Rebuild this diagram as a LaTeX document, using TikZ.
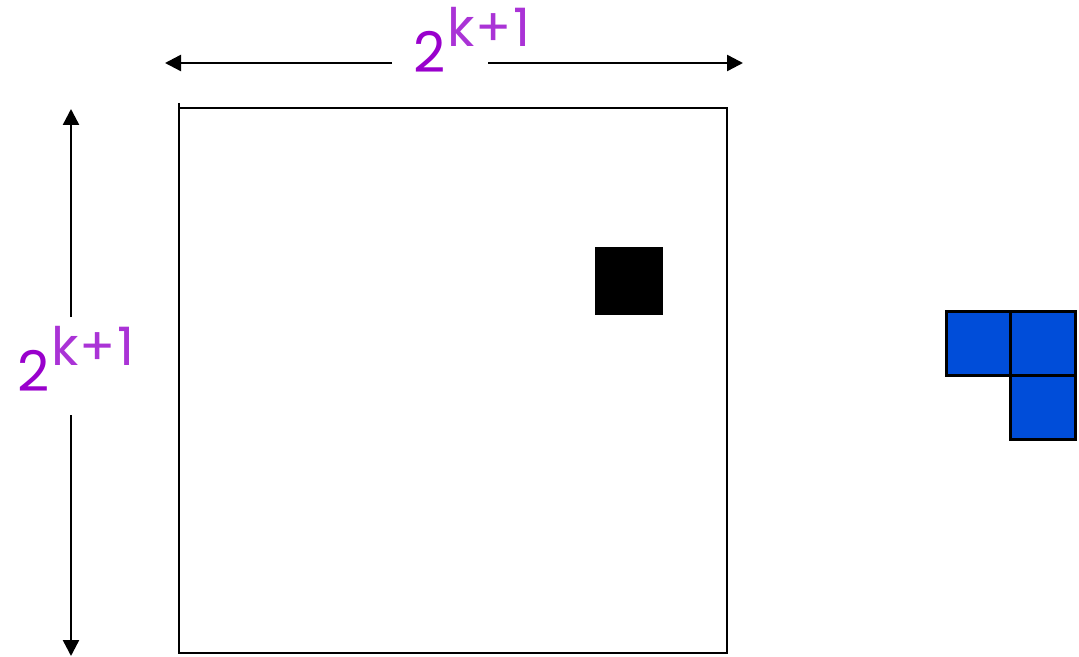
\documentclass[tikz,border=0pt]{standalone}
\usepackage{fontspec}
\setmainfont{Poppins}
\usetikzlibrary{arrows.meta}
\definecolor{pbase}{RGB}{153,0,204}
\definecolor{psup}{RGB}{170,51,214}
\definecolor{tileblue}{RGB}{0,77,217}
\tikzset{
  dimarrow/.style={line width=1.2pt,-{Triangle[length=8pt,width=8pt]}},
  edge/.style={line width=1.4pt},
  tile/.style={fill=tileblue,draw=black,line width=1.5pt},
  dimlabel/.style={inner sep=0pt,anchor=base west},
}
\newcommand{\dimtext}{{\fontsize{28}{28}\selectfont\color{pbase}2}\kern1pt\raisebox{13pt}{\fontsize{26.5}{26.5}\selectfont\color{psup}k\kern0.5pt+\kern0.5pt1}}
\begin{document}
\begin{tikzpicture}[x=0.5pt,y=-0.5pt]
\useasboundingbox (0,0) rectangle (1079,657);
% top dimension
\coordinate (tl) at (392,63);
\coordinate (tr) at (488,63);
\coordinate (tlend) at (165,63);
\coordinate (trend) at (743,63);
\node[dimlabel] (toplabel) at (413,73) {\dimtext};
\draw[dimarrow] (tl) -- (tlend);
\draw[dimarrow] (tr) -- (trend);
% left dimension
\coordinate (lt) at (71,317);
\coordinate (lb) at (71,415);
\coordinate (ltend) at (71,109);
\coordinate (lbend) at (71,656);
\node[dimlabel] (leftlabel) at (17,391) {\dimtext};
\draw[dimarrow] (lt) -- (ltend);
\draw[dimarrow] (lb) -- (lbend);
% big square
\coordinate (sq1) at (179,103);
\coordinate (sq2) at (179,653);
\coordinate (sq3) at (727,653);
\coordinate (sq4) at (727,108);
\coordinate (sq5) at (180,108);
\draw[edge] (sq1) -- (sq2) -- (sq3) -- (sq4) -- (sq5);
% black cell
\fill[black] (595,247) rectangle (663,315);
% tromino
\draw[tile] (946,311) rectangle (1010,375);
\draw[tile] (1010,311) rectangle (1075,375);
\draw[tile] (1010,375) rectangle (1075,439);
\end{tikzpicture}
\end{document}
